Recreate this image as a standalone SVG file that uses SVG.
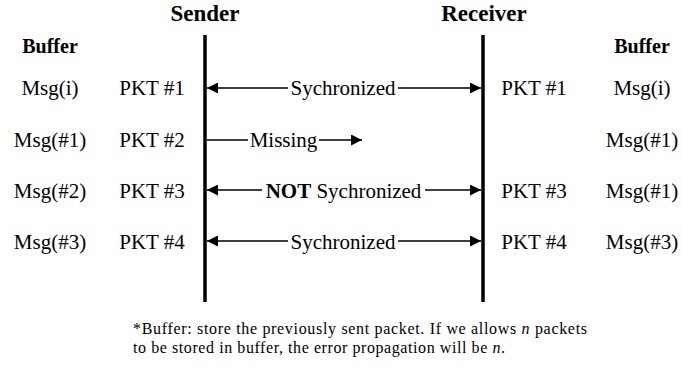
<svg xmlns="http://www.w3.org/2000/svg" width="683" height="368" viewBox="0 0 683 368">
<defs>
<marker id="ah" viewBox="0 0 10 10" refX="10" refY="5" markerWidth="11" markerHeight="11" markerUnits="userSpaceOnUse" orient="auto-start-reverse">
<path d="M0,0 L10,5 L0,10 z" fill="#000"/>
</marker>
<style>
text{font-family:"Liberation Serif","Times New Roman",serif;fill:#000}
.t{font-size:21px;text-anchor:middle}
.h{font-size:23px;font-weight:bold;text-anchor:middle}
.b{font-size:20px;font-weight:bold;text-anchor:middle}
.f{font-size:16px}
.life{stroke:#000;stroke-width:3.5}
.c{stroke:#000;stroke-width:1.5;fill:none}
</style>
</defs>
<rect width="683" height="368" fill="#fff"/>
<g id="sender">
<text class="h" x="205" y="21">Sender</text>
<line class="life" x1="205" y1="35" x2="205" y2="302"/>
</g>
<g id="receiver">
<text class="h" x="484" y="21">Receiver</text>
<line class="life" x1="483" y1="35" x2="483" y2="302"/>
</g>
<g id="sender-buffer">
<text class="b" x="50" y="53">Buffer</text>
<text class="t" x="50" y="95">Msg(i)</text>
<text class="t" x="50" y="147">Msg(#1)</text>
<text class="t" x="50" y="198">Msg(#2)</text>
<text class="t" x="50" y="249">Msg(#3)</text>
</g>
<g id="sender-packets">
<text class="t" x="152" y="95">PKT #1</text>
<text class="t" x="152" y="147">PKT #2</text>
<text class="t" x="152" y="198">PKT #3</text>
<text class="t" x="152" y="249">PKT #4</text>
</g>
<g id="receiver-packets">
<text class="t" x="534" y="95">PKT #1</text>
<text class="t" x="534" y="198">PKT #3</text>
<text class="t" x="534" y="249">PKT #4</text>
</g>
<g id="receiver-buffer">
<text class="b" x="642" y="53">Buffer</text>
<text class="t" x="642" y="95">Msg(i)</text>
<text class="t" x="642" y="147">Msg(#1)</text>
<text class="t" x="642" y="198">Msg(#1)</text>
<text class="t" x="642" y="249">Msg(#3)</text>
</g>
<g id="connectors">
<line class="c" x1="288" y1="88" x2="207" y2="88" marker-end="url(#ah)"/>
<line class="c" x1="398" y1="88" x2="481" y2="88" marker-end="url(#ah)"/>
<text class="t" x="343" y="95">Sychronized</text>
<line class="c" x1="207" y1="140" x2="248" y2="140"/>
<line class="c" x1="319" y1="140" x2="362" y2="140" marker-end="url(#ah)"/>
<text class="t" x="283.5" y="147">Missing</text>
<line class="c" x1="262" y1="190" x2="207" y2="190" marker-end="url(#ah)"/>
<line class="c" x1="425" y1="190" x2="481" y2="190" marker-end="url(#ah)"/>
<text class="t" x="343.5" y="198"><tspan font-weight="bold">NOT</tspan> Sychronized</text>
<line class="c" x1="288" y1="241" x2="207" y2="241" marker-end="url(#ah)"/>
<line class="c" x1="398" y1="241" x2="481" y2="241" marker-end="url(#ah)"/>
<text class="t" x="343" y="249">Sychronized</text>
</g>
<g id="footnote">
<text class="f" x="133" y="334" textLength="454" lengthAdjust="spacing">*Buffer: store the previously sent packet. If we allows <tspan font-style="italic">n</tspan> packets</text>
<text class="f" x="133" y="353" textLength="372" lengthAdjust="spacing">to be stored in buffer, the error propagation will be <tspan font-style="italic">n</tspan>.</text>
</g>
</svg>
